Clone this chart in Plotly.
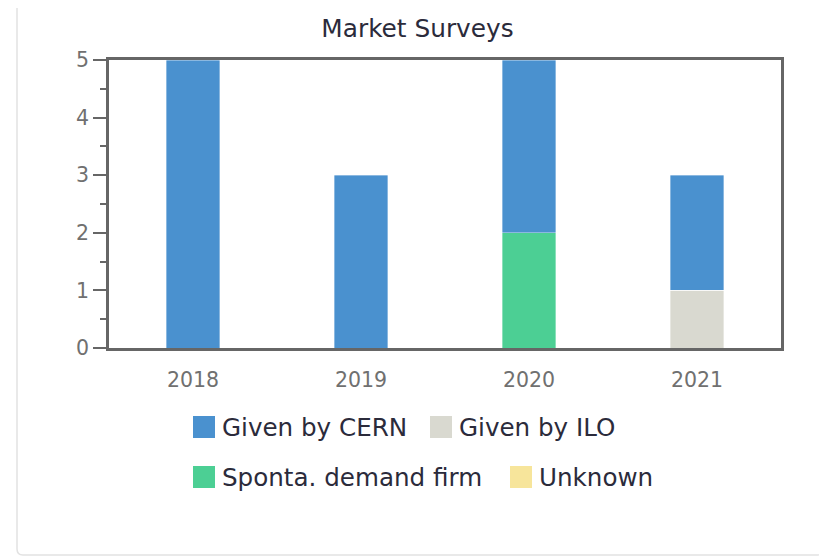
import plotly.graph_objects as go

years = ["2018", "2019", "2020", "2021"]
given_by_cern = [5, 3, 3, 2]
given_by_ilo = [0, 0, 0, 1]
sponta_demand_firm = [0, 0, 2, 0]
unknown = [0, 0, 0, 0]

series_names = ["Given by CERN", "Given by ILO", "Sponta. demand firm", "Unknown"]
series_values = [given_by_cern, given_by_ilo, sponta_demand_firm, unknown]
series_colors = ["#4a91cf", "#d9d9d0", "#4ccf94", "#f7e59b"]

FONT = "DejaVu Sans"
OFF = 8  # page body margin
W, H = 827 - OFF, 558 - OFF
L, R, T, B = 101, 46, 52, 210
PW, PH = W - L - R, H - T - B

def px(x):  # screen x -> paper
    return (x - OFF - L) / PW

def py(y):  # screen y -> paper
    return (H - B - (y - OFF)) / PH

fig = go.Figure()
# stacking order: bottom first
for idx in [2, 1, 3, 0]:
    fig.add_trace(go.Bar(
        x=years, y=series_values[idx], name=series_names[idx],
        marker=dict(color=series_colors[idx], line=dict(width=0.6, color="rgba(255,255,255,0.6)")),
        showlegend=False,
    ))

shapes = []
annotations = []
# card outline
shapes.append(dict(type="path", xref="paper", yref="paper", layer="below",
                   path=f"M {px(17)},{py(8)} L {px(17)},{py(549)} Q {px(17)},{py(555)} {px(23)},{py(555)} "
                        f"L {px(817)},{py(555)} Q {px(823)},{py(555)} {px(823)},{py(549)} L {px(823)},{py(8)}",
                   line=dict(color="#e2e2e2", width=1.5)))

# manual legend
legend_pos = [(193, 427), (430, 427), (193, 477), (510, 477)]
for name, color, (lx, ly) in zip(series_names, series_colors, legend_pos):
    shapes.append(dict(type="rect", xref="paper", yref="paper",
                       x0=px(lx), x1=px(lx + 22), y0=py(ly + 11), y1=py(ly - 11),
                       fillcolor=color, line=dict(width=0)))
    annotations.append(dict(text=name, xref="paper", yref="paper", x=px(lx + 27), y=py(ly),
                            xanchor="left", yanchor="middle", showarrow=False,
                            font=dict(family=FONT, size=24.6, color="#2b2b3b")))

fig.update_layout(
    width=W, height=H,
    barmode="stack", bargap=0.68,
    margin=dict(l=L, r=R, t=T, b=B),
    paper_bgcolor="white", plot_bgcolor="white",
    title=dict(text="Market Surveys", x=0.5, xanchor="center", y=1 - 20 / H, yanchor="middle",
               font=dict(family=FONT, size=24.8, color="#2b2b3b")),
    font=dict(family=FONT, color="#6a6a6a"),
    shapes=shapes, annotations=annotations,
    xaxis=dict(showline=True, linecolor="#666666", linewidth=2.5, mirror=True,
               ticks="", tickfont=dict(size=20.5, color="#707070"), ticklabelstandoff=12,
               showgrid=False, fixedrange=True),
    yaxis=dict(range=[0, 5], dtick=1, showline=True, linecolor="#666666", linewidth=2.5, mirror=True,
               ticks="outside", ticklen=13, tickwidth=2, tickcolor="#666666",
               minor=dict(dtick=0.5, ticks="outside", ticklen=6, tickwidth=2, tickcolor="#666666"),
               tickfont=dict(size=20.5, color="#707070"), showgrid=False, zeroline=False,
               fixedrange=True),
)

fig.write_html("out.html")
